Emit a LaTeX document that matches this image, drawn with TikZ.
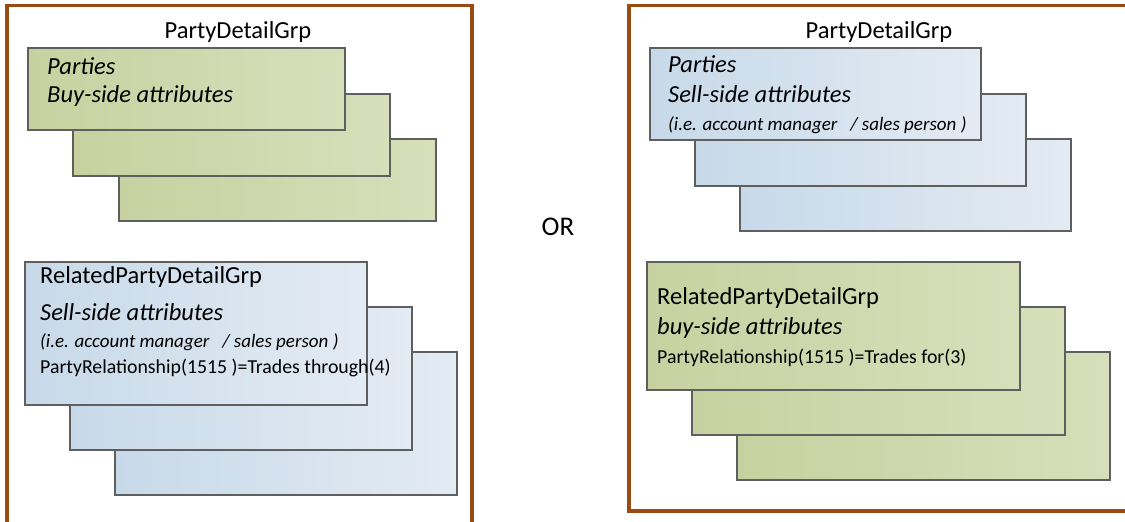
\documentclass[tikz,border=0pt]{standalone}
\usepackage{fontspec}
\setmainfont{Carlito}
\definecolor{framebrown}{RGB}{152,76,20}
\definecolor{cardedge}{RGB}{95,95,95}
\definecolor{buyleft}{RGB}{199,209,160}
\definecolor{buyright}{RGB}{215,223,186}
\definecolor{sellleft}{RGB}{199,217,233}
\definecolor{sellright}{RGB}{227,235,243}
\tikzstyle{frame} = [draw=framebrown, line width=3.5pt]
\tikzstyle{card} = [draw=cardedge, line width=1.2pt, anchor=north west, inner sep=0pt, outer sep=0pt]
\tikzstyle{buycard} = [card, left color=buyleft, right color=buyright]
\tikzstyle{sellcard} = [card, left color=sellleft, right color=sellright]
\tikzstyle{big} = [inner sep=0pt, font=\fontsize{24.5}{28}\selectfont]
\tikzstyle{bigit} = [big, anchor=west, font=\fontsize{24.5}{28}\selectfont\itshape]
\tikzstyle{bigup} = [big, anchor=west]
\tikzstyle{small} = [inner sep=0pt, anchor=west, font=\fontsize{19.8}{22}\selectfont]
\tikzstyle{smallit} = [small, font=\fontsize{19}{22}\selectfont\itshape]

\begin{document}
\begin{tikzpicture}[x=1pt, y=-1pt]
    \useasboundingbox (0,0) rectangle (1125,522);
    % outer group frames
    \draw[frame] (7,530) -- (7,5.5) -- (472,5.5) -- (472,530);
    \draw[frame] (1130,5.5) -- (629,5.5) -- (629,511) -- (1130,511);
    \node[big](ltitle) at (238,32){PartyDetailGrp};
    \node[big](rtitle) at (879,32){PartyDetailGrp};
    \node[big, font=\fontsize{27}{30}\selectfont](or) at (558,227){OR};
    % left: parties, buy-side
    \node[buycard, minimum width=317pt, minimum height=82pt](lp3) at (119,139){};
    \node[buycard, minimum width=317pt, minimum height=82pt](lp2) at (73,94){};
    \node[buycard, minimum width=317pt, minimum height=82pt](lp1) at (28,48){};
    \node[bigit](lpa) at (47,66){Parties};
    \node[bigit](lpb) at (47,96){Buy-side attributes};
    % left: related parties, sell-side
    \node[sellcard, minimum width=342pt, minimum height=143pt](lr3) at (115,352){};
    \node[sellcard, minimum width=342pt, minimum height=143pt](lr2) at (70,307){};
    \node[sellcard, minimum width=342pt, minimum height=143pt](lr1) at (25,262){};
    \node[bigup](lra) at (40,277){RelatedPartyDetailGrp};
    \node[bigit](lrb) at (40,312){Sell-side attributes};
    \node[smallit](lrc) at (40,342){(i.e. account manager \ \ / sales person )};
    \node[small](lrd) at (40,368){PartyRelationship(1515 )=Trades through(4)};
    % right: parties, sell-side
    \node[sellcard, minimum width=331pt, minimum height=92pt](rp3) at (740,139){};
    \node[sellcard, minimum width=331pt, minimum height=92pt](rp2) at (695,94){};
    \node[sellcard, minimum width=331pt, minimum height=92pt](rp1) at (650,48){};
    \node[bigit](rpa) at (668,64){Parties};
    \node[bigit](rpb) at (668,94){Sell-side attributes};
    \node[smallit](rpc) at (668,125){(i.e. account manager \ \ / sales person )};
    % right: related parties, buy-side
    \node[buycard, minimum width=373pt, minimum height=128pt](rr3) at (737,352){};
    \node[buycard, minimum width=373pt, minimum height=128pt](rr2) at (692,307){};
    \node[buycard, minimum width=373pt, minimum height=128pt](rr1) at (647,262){};
    \node[bigup](rra) at (657,298){RelatedPartyDetailGrp};
    \node[bigit](rrb) at (657,328){buy-side attributes};
    \node[small](rrc) at (657,358){PartyRelationship(1515 )=Trades for(3)};
  \end{tikzpicture}
\end{document}
